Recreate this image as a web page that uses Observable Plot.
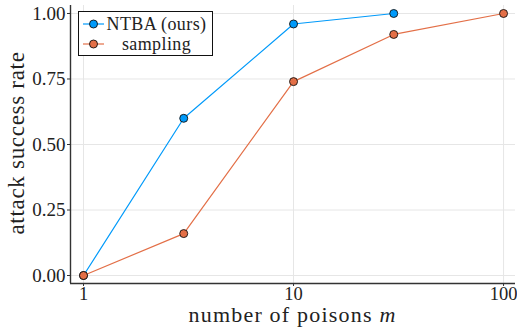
<!DOCTYPE html>
<html>
<head>
<meta charset="utf-8">
<script src="https://cdn.jsdelivr.net/npm/d3@7"></script>
<script src="https://cdn.jsdelivr.net/npm/@observablehq/plot@0.6"></script>
<style>
  html, body { margin: 0; padding: 0; background: white; }
  svg { display: block; }
</style>
</head>
<body>
<div id="chart"></div>
<script>
// ---- data ----
const xNTBA = [1, 3, 10, 30];
const yNTBA = [0, 0.6, 0.96, 1.0];
const xSampling = [1, 3, 10, 30, 100];
const ySampling = [0, 0.16, 0.74, 0.92, 1.0];
const seriesNames = ["NTBA (ours)", "sampling"];
const seriesColors = ["#009AFA", "#E36F47"];
const xTicks = [1, 10, 100];
const yTicks = [0, 0.25, 0.5, 0.75, 1.0];
const xLabel = "number of poisons ";
const xLabelVar = "m";
const yLabel = "attack success rate";

const ntba = xNTBA.map((x, i) => ({x, y: yNTBA[i]}));
const sampling = xSampling.map((x, i) => ({x, y: ySampling[i]}));

const xDom = [0.867, 114];
const yDom = [-0.0305, 1.0305];
const FONT = '"Liberation Serif"';

const plot = Plot.plot({
  width: 517,
  height: 333,
  marginLeft: 70,
  marginRight: 2,
  marginTop: 5,
  marginBottom: 50,
  style: {background: "white", color: "#222", fontSize: "19px"},
  x: {type: "log", domain: xDom},
  y: {domain: yDom},
  marks: [
    Plot.gridX(xTicks, {stroke: "#e6e6e6", strokeOpacity: 1, strokeWidth: 1}),
    Plot.gridY(yTicks, {stroke: "#e6e6e6", strokeOpacity: 1, strokeWidth: 1}),
    Plot.axisX(xTicks, {tickSize: 3, tickPadding: 0, tickFormat: d => String(d), label: null, stroke: "#333", fontSize: 18.5}),
    Plot.axisY(yTicks, {tickSize: 3, tickPadding: 2, tickFormat: d3.format(".2f"), label: null, stroke: "#333", fontSize: 19}),
    Plot.ruleX([xDom[0]], {stroke: "#333", strokeWidth: 1.4}),
    Plot.ruleY([yDom[0]], {stroke: "#333", strokeWidth: 1.4}),
    Plot.line(ntba, {x: "x", y: "y", stroke: seriesColors[0], strokeWidth: 1.2}),
    Plot.dot(ntba, {x: "x", y: "y", r: 4, fill: seriesColors[0], stroke: "#111", strokeWidth: 0.9}),
    Plot.line(sampling, {x: "x", y: "y", stroke: seriesColors[1], strokeWidth: 1.2}),
    Plot.dot(sampling, {x: "x", y: "y", r: 4, fill: seriesColors[1], stroke: "#111", strokeWidth: 0.9})
  ]
});

document.getElementById("chart").appendChild(plot);

// ---- axis labels and legend ----
const svg = d3.select(plot);

const xl = svg.append("text")
  .attr("x", 292.5).attr("y", 321.5)
  .attr("text-anchor", "middle")
  .attr("font-size", 22)
  .attr("letter-spacing", 1.2)
  .attr("fill", "#222");
xl.append("tspan").text(xLabel);
xl.append("tspan").attr("font-style", "italic").text(xLabelVar);

svg.append("text")
  .attr("transform", "translate(24,143) rotate(-90)")
  .attr("text-anchor", "middle")
  .attr("font-size", 23)
  .attr("letter-spacing", 0.7)
  .attr("fill", "#222")
  .text(yLabel);

const lg = svg.append("g");
lg.append("rect")
  .attr("x", 78.5).attr("y", 11.5).attr("width", 134).attr("height", 44)
  .attr("fill", "white").attr("stroke", "#111").attr("stroke-width", 1);
const rowY = [24, 44];
seriesNames.forEach((name, i) => {
  lg.append("line")
    .attr("x1", 83).attr("x2", 104).attr("y1", rowY[i]).attr("y2", rowY[i])
    .attr("stroke", seriesColors[i]).attr("stroke-width", 1.2);
  lg.append("circle")
    .attr("cx", 93.5).attr("cy", rowY[i]).attr("r", 4)
    .attr("fill", seriesColors[i]).attr("stroke", "#111").attr("stroke-width", 0.9);
  lg.append("text")
    .attr("x", 156.5).attr("y", rowY[i] + 6)
    .attr("text-anchor", "middle")
    .attr("font-size", 18)
    .attr("letter-spacing", 0.4)
    .attr("fill", "#222")
    .text(name);
});

// apply the serif family inline on every element
svg.style("font-family", FONT);
svg.selectAll("g, text, tspan").style("font-family", FONT);
</script>
</body>
</html>
